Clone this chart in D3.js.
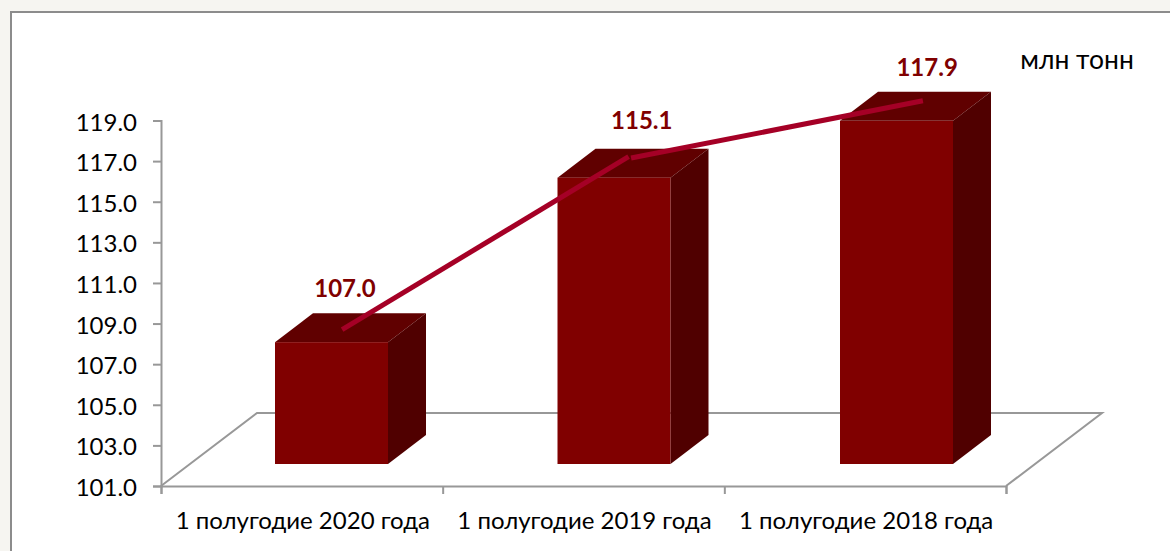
<!DOCTYPE html>
<html>
<head>
<meta charset="utf-8">
<script src="https://cdn.jsdelivr.net/npm/d3@7/dist/d3.min.js"></script>
<style>
  html, body { margin: 0; padding: 0; background: #f6f5f1; overflow: hidden; }
  text { font-family: "Lato", "Open Sans", sans-serif; }
</style>
</head>
<body>
<svg width="1170" height="551"></svg>
<script>
// chart values
var categories = ["1 полугодие 2020 года", "1 полугодие 2019 года", "1 полугодие 2018 года"];
var values = [107.0, 115.1, 117.9];
var tickValues = [101, 103, 105, 107, 109, 111, 113, 115, 117, 119];
// the line floats above the bars
var linePositions = [[0.643, 1.660], [1.669, 2.705]];
var lineValues = [[108.7, 117.22], [117.15, 119.97]];
var labelPositions = [0.653, 1.707, 2.720];
var labelValues = [110.3, 118.6, 121.2];
var unitLabel = "млн тонн";

var svg = d3.select("svg");

svg.append("rect")
  .attr("x", 11).attr("y", 12)
  .attr("width", 1170).attr("height", 560)
  .attr("fill", "#fff").attr("stroke", "#8c8c8c").attr("stroke-width", 2);

var xPos = d3.scaleLinear().domain([0, 3]).range([161, 1006]);
var xBar = d3.scaleLinear().domain([0, 2]).range([275, 840]);
var y = d3.scaleLinear().domain([101, 119]).range([486, 120.5]);

// fake 3d depth of the floor and of the bars
var floorDx = 96, floorDy = -73;
var depthDx = 38, depthDy = -29, lift = 22;
var axisColor = "#989898";

// floor
svg.append("path")
  .attr("d", d3.line()([
    [xPos(0), y(101)],
    [xPos(0) + floorDx, y(101) + floorDy],
    [xPos(3) + floorDx, y(101) + floorDy],
    [xPos(3), y(101)]
  ]))
  .attr("fill", "none").attr("stroke", axisColor).attr("stroke-width", 2);

// axes
var yAxis = svg.append("g")
  .attr("transform", "translate(161,0)")
  .call(d3.axisLeft(y).tickValues(tickValues).tickFormat(d3.format(".1f")).tickSize(8).tickPadding(16));
var xAxis = svg.append("g")
  .attr("transform", "translate(0,486)")
  .call(d3.axisBottom(xPos).tickValues([0, 1, 2, 3]).tickFormat("").tickSize(8));
[yAxis, xAxis].forEach(function(a) {
  a.select(".domain").attr("stroke", axisColor).attr("stroke-width", 2);
  a.selectAll(".tick line").attr("stroke", axisColor).attr("stroke-width", 2);
});
yAxis.selectAll("text")
  .attr("font-size", 24).attr("fill", "#000").attr("font-family", "Lato")
  .attr("dy", "0.4em");

// category labels
svg.append("g").selectAll("text").data(categories).enter().append("text")
  .attr("x", function(d, i) { return xPos(i + 0.5) + 1; })
  .attr("y", 529)
  .attr("text-anchor", "middle")
  .attr("font-size", 24)
  .attr("fill", "#000")
  .text(function(d) { return d; });

// bars
var bars = svg.append("g").selectAll("g").data(values).enter().append("g");
var barW = 113;
function barTop(d) { return y(d) - lift; }
var barBottom = y(101) - lift;

// top face
bars.append("path")
  .attr("fill", "#600000")
  .attr("d", function(d, i) {
    var l = xBar(i), t = barTop(d);
    return d3.line()([[l, t], [l + depthDx, t + depthDy], [l + barW + depthDx, t + depthDy], [l + barW, t]]) + "Z";
  });
// side face
bars.append("path")
  .attr("fill", "#500000")
  .attr("d", function(d, i) {
    var r = xBar(i) + barW, t = barTop(d);
    return d3.line()([[r, t], [r + depthDx, t + depthDy], [r + depthDx, barBottom + depthDy], [r, barBottom]]) + "Z";
  });
// front face
bars.append("rect")
  .attr("fill", "#800000")
  .attr("x", function(d, i) { return xBar(i); })
  .attr("y", barTop)
  .attr("width", barW)
  .attr("height", function(d) { return barBottom - barTop(d); });

// trend line, two separate strokes with a small gap at the middle point
svg.append("g").selectAll("path").data(lineValues).enter().append("path")
  .attr("d", function(d, s) {
    return d3.line()
      .x(function(v, i) { return xPos(linePositions[s][i]); })
      .y(function(v) { return y(v); })(d);
  })
  .attr("fill", "none").attr("stroke", "#a50026").attr("stroke-width", 5);

// value labels
svg.append("g").selectAll("text").data(values).enter().append("text")
  .attr("x", function(d, i) { return xPos(labelPositions[i]); })
  .attr("y", function(d, i) { return y(labelValues[i]); })
  .attr("text-anchor", "middle")
  .attr("font-size", 24)
  .attr("font-weight", "bold")
  .attr("fill", "#800000")
  .text(function(d) { return d3.format(".1f")(d); });

svg.append("text")
  .attr("x", 1077).attr("y", 69)
  .attr("text-anchor", "middle")
  .attr("font-size", 26.5)
  .attr("fill", "#000")
  .text(unitLabel);
</script>
</body>
</html>
